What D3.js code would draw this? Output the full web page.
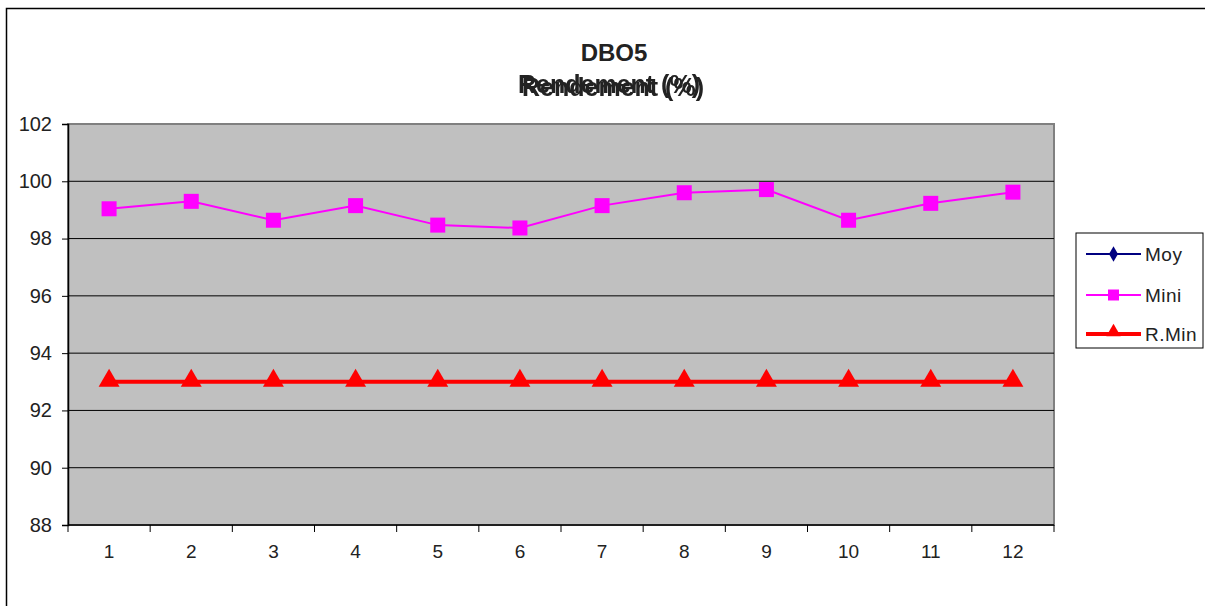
<!DOCTYPE html>
<html>
<head>
<meta charset="utf-8">
<script src="https://cdn.jsdelivr.net/npm/d3@7"></script>
<style>
  body { margin: 0; background: #fff; }
  text { font-family: "Liberation Sans", Arial, sans-serif; fill: #222; }
</style>
</head>
<body>
<div id="chart"></div>
<script>
// data
const months = [1, 2, 3, 4, 5, 6, 7, 8, 9, 10, 11, 12];
const miniValues = [99.04, 99.30, 98.64, 99.15, 98.47, 98.37, 99.15, 99.60, 99.71, 98.64, 99.23, 99.62];
const rMinValues = [93, 93, 93, 93, 93, 93, 93, 93, 93, 93, 93, 93];
const moyValues = [];
const yTicks = [88, 90, 92, 94, 96, 98, 100, 102];
const legendLabels = ["Moy", "Mini", "R.Min"];

const W = 1205, H = 606;
const plot = {left: 68, top: 124, right: 1054, bottom: 525};

const svg = d3.select("#chart")
  .append("svg")
    .attr("width", W)
    .attr("height", H);

// doubled title look, drawn from a single text
const defs = svg.append("defs");
const dbl = defs.append("filter").attr("id", "doubled")
    .attr("x", "-10%").attr("y", "-40%").attr("width", "120%").attr("height", "180%");
dbl.append("feOffset").attr("in", "SourceGraphic").attr("dx", -4).attr("dy", -3).attr("result", "off");
const merge = dbl.append("feMerge");
merge.append("feMergeNode").attr("in", "off");
merge.append("feMergeNode").attr("in", "SourceGraphic");

// outer frame
svg.append("rect")
    .attr("x", 6.5).attr("y", 8.5)
    .attr("width", W + 10).attr("height", H + 10)
    .attr("fill", "#fff")
    .attr("stroke", "#000")
    .attr("stroke-width", 1.5);

const x = d3.scaleBand()
    .domain(months)
    .range([plot.left, plot.right]);

const y = d3.scaleLinear()
    .domain([88, 102])
    .range([plot.bottom, plot.top]);

// plot background
svg.append("rect")
    .attr("x", plot.left).attr("y", plot.top)
    .attr("width", plot.right - plot.left)
    .attr("height", plot.bottom - plot.top)
    .attr("fill", "#c0c0c0")
    .attr("stroke", "#808080")
    .attr("stroke-width", 2);

// gridlines
svg.append("g")
  .selectAll("line")
  .data(yTicks.filter(function(d) { return d > 88 && d < 102; }))
  .enter()
  .append("line")
    .attr("x1", plot.left).attr("x2", plot.right)
    .attr("y1", function(d) { return y(d); })
    .attr("y2", function(d) { return y(d); })
    .attr("stroke", "#000")
    .attr("stroke-width", 1);

// y axis
svg.append("g")
    .attr("transform", `translate(${plot.left}, 0)`)
    .call(d3.axisLeft(y).tickValues(yTicks).tickSize(6).tickPadding(10))
    .call(function(g) {
      g.select(".domain").attr("stroke", "#000").attr("stroke-width", 1.5);
      g.selectAll("text").style("font-size", "20px").attr("fill", "#222");
    });

// x axis with tick marks on band boundaries
const xAxisG = svg.append("g")
    .attr("transform", `translate(0, ${plot.bottom})`);
xAxisG.append("line")
    .attr("x1", plot.left).attr("x2", plot.right)
    .attr("stroke", "#000").attr("stroke-width", 1.5);
xAxisG.selectAll(".tick")
  .data(months.concat([13]))
  .enter()
  .append("line")
    .attr("x1", function(d) { return d <= 12 ? x(d) : plot.right; })
    .attr("x2", function(d) { return d <= 12 ? x(d) : plot.right; })
    .attr("y1", 0).attr("y2", 7)
    .attr("stroke", "#000");
xAxisG.selectAll(".lab")
  .data(months)
  .enter()
  .append("text")
    .attr("x", function(d) { return x(d) + x.bandwidth() / 2; })
    .attr("y", 33)
    .attr("text-anchor", "middle")
    .style("font-size", "19px")
    .text(function(d) { return d; });

const cx = function(d, i) { return x(months[i]) + x.bandwidth() / 2; };

// R.Min line
svg.append("path")
    .datum(rMinValues)
    .attr("fill", "none")
    .attr("stroke", "#ff0000")
    .attr("stroke-width", 4)
    .attr("d", d3.line().x(cx).y(function(d) { return y(d); }));

const tri = d3.symbol().type(d3.symbolTriangle).size(190);
svg.append("g")
  .selectAll("path")
  .data(rMinValues)
  .enter()
  .append("path")
    .attr("transform", function(d, i) { return `translate(${cx(d, i)}, ${y(d) - 1})`; })
    .attr("d", tri)
    .attr("fill", "#ff0000");

// Mini line
svg.append("path")
    .datum(miniValues)
    .attr("fill", "none")
    .attr("stroke", "#ff00ff")
    .attr("stroke-width", 2)
    .attr("d", d3.line().x(cx).y(function(d) { return y(d); }));

svg.append("g")
  .selectAll("rect")
  .data(miniValues)
  .enter()
  .append("rect")
    .attr("x", function(d, i) { return cx(d, i) - 7.5; })
    .attr("y", function(d) { return y(d) - 7.5; })
    .attr("width", 15).attr("height", 15)
    .attr("fill", "#ff00ff");

// title
svg.append("text")
    .attr("x", 614).attr("y", 61)
    .attr("text-anchor", "middle")
    .style("font-size", "24px").style("font-weight", "bold")
    .text("DBO5");
svg.append("text")
    .attr("x", 613).attr("y", 96)
    .attr("text-anchor", "middle")
    .attr("filter", "url(#doubled)")
    .style("font-size", "25px").style("font-weight", "bold")
    .text("Rendement (%)");

// legend
const legend = svg.append("g").attr("transform", "translate(1076, 233)");
legend.append("rect")
    .attr("width", 127).attr("height", 115)
    .attr("fill", "#fff")
    .attr("stroke", "#000").attr("stroke-width", 1);

const legendColors = ["#000080", "#ff00ff", "#ff0000"];
const legendWidths = [2, 2, 4];
const legendY = [21, 62, 101];

legendLabels.forEach(function(name, i) {
  const g = legend.append("g").attr("transform", `translate(0, ${legendY[i]})`);
  g.append("line")
      .attr("x1", 10).attr("x2", 65)
      .attr("stroke", legendColors[i])
      .attr("stroke-width", legendWidths[i]);
  if (i === 0) {
    g.append("path")
        .attr("transform", "translate(37.5, 0)")
        .attr("d", d3.symbol().type(d3.symbolDiamond).size(70))
        .attr("fill", legendColors[i]);
  } else if (i === 1) {
    g.append("rect")
        .attr("x", 32).attr("y", -5.5)
        .attr("width", 11).attr("height", 11)
        .attr("fill", legendColors[i]);
  } else {
    g.append("path")
        .attr("transform", "translate(37.5, -2)")
        .attr("d", d3.symbol().type(d3.symbolTriangle).size(90))
        .attr("fill", legendColors[i]);
  }
  g.append("text")
      .attr("x", 69).attr("y", 7)
      .style("font-size", "19px")
      .style("letter-spacing", "0.5px")
      .text(name);
});
</script>
</body>
</html>
